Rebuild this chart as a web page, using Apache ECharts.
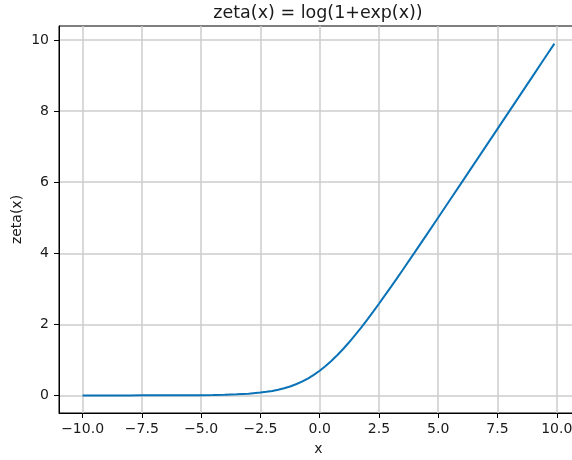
<!DOCTYPE html>
<html>
<head>
<meta charset="utf-8">
<script src="https://cdn.jsdelivr.net/npm/echarts@6/dist/echarts.min.js"></script>
<style>
html,body{margin:0;padding:0;background:#fff;}
#chart{width:572px;height:460px;}
</style>
</head>
<body>
<div id="chart"></div>
<script>
// ---- data ----
var xValues = [-10, -9.5, -9, -8.5, -8, -7.5, -7, -6.5, -6, -5.5, -5, -4.5, -4, -3.5, -3, -2.5, -2.25, -2, -1.75, -1.5, -1.25, -1, -0.75, -0.5, -0.25,
  0, 0.25, 0.5, 0.75, 1, 1.25, 1.5, 1.75, 2, 2.25, 2.5, 2.75, 3, 3.25, 3.5, 4, 4.5, 5, 5.5, 6, 6.5, 7, 7.5, 8, 8.5, 9, 9.5, 9.9];
var zetaValues = [0.000, 0.000, 0.000, 0.000, 0.000, 0.001, 0.001, 0.002, 0.002, 0.004, 0.007, 0.011, 0.018, 0.030, 0.049, 0.079, 0.100, 0.127, 0.160, 0.201, 0.252, 0.313, 0.387, 0.474, 0.576,
  0.693, 0.826, 0.974, 1.137, 1.313, 1.502, 1.701, 1.910, 2.127, 2.350, 2.579, 2.814, 3.049, 3.288, 3.530, 4.018, 4.511, 5.007, 5.504, 6.002, 6.502, 7.001, 7.501, 8.000, 8.500, 9.000, 9.500, 9.900];
var xTickValues = [-10, -7.5, -5, -2.5, 0, 2.5, 5, 7.5, 10];
var xTickLabels = ['\u221210.0', '\u22127.5', '\u22125.0', '\u22122.5', '0.0', '2.5', '5.0', '7.5', '10.0'];
var yTickValues = [0, 2, 4, 6, 8, 10];
var yTickLabels = ['0', '2', '4', '6', '8', '10'];
var titleText = 'zeta(x) = log(1+exp(x))';
var xName = 'x';
var yName = 'zeta(x)';

var points = xValues.map(function (x, i) { return [x, zetaValues[i]]; });
var font = 'DejaVu Sans';
var textColor = '#1a1a1a';

var chart = echarts.init(document.getElementById('chart'), null, {renderer: 'canvas'});
chart.setOption({
  animation: false,
  backgroundColor: '#ffffff',
  title: {
    text: titleText,
    left: 318,
    top: 4,
    padding: 0,
    textAlign: 'center',
    textStyle: {fontFamily: font, fontSize: 17.5, fontWeight: 'normal', color: textColor}
  },
  grid: {
    left: 59, right: -6, top: 26, bottom: 47,
    outerBoundsMode: 'none',
    containLabel: false,
    show: true, borderColor: '#000', borderWidth: 1, backgroundColor: 'transparent'
  },
  xAxis: {
    type: 'value',
    min: -10.995, max: 10.895,
    minInterval: 2.5, maxInterval: 2.5,
    name: xName, nameLocation: 'middle', nameGap: 29, nameMoveOverlap: false,
    nameTextStyle: {fontFamily: font, fontSize: 14, color: textColor},
    axisLine: {show: true, onZero: false, lineStyle: {color: '#000', width: 1}},
    axisTick: {show: true, customValues: xTickValues, length: 5, lineStyle: {color: '#000', width: 1}},
    axisLabel: {
      customValues: xTickValues, margin: 9, fontFamily: font, fontSize: 14, color: textColor,
      formatter: function (v) { var i = xTickValues.indexOf(v); return i >= 0 ? xTickLabels[i] : ''; }
    },
    splitLine: {show: true, lineStyle: {color: '#cccccc', width: 1.5}}
  },
  yAxis: {
    type: 'value',
    min: -0.495, max: 10.395,
    minInterval: 2, maxInterval: 2,
    name: yName, nameLocation: 'middle', nameGap: 35, nameMoveOverlap: false,
    nameTextStyle: {fontFamily: font, fontSize: 14, color: textColor},
    axisLine: {show: true, onZero: false, lineStyle: {color: '#000', width: 1}},
    axisTick: {show: true, customValues: yTickValues, length: 5, lineStyle: {color: '#000', width: 1}},
    axisLabel: {
      customValues: yTickValues, margin: 10, fontFamily: font, fontSize: 14, color: textColor,
      formatter: function (v) { var i = yTickValues.indexOf(v); return i >= 0 ? yTickLabels[i] : ''; }
    },
    splitLine: {show: true, lineStyle: {color: '#cccccc', width: 1.5}}
  },
  series: [{
    type: 'line',
    data: points,
    showSymbol: false,
    smooth: false,
    clip: false,
    lineStyle: {color: '#0a72b6', width: 2},
    itemStyle: {color: '#0a72b6'}
  }]
});
</script>
</body>
</html>
